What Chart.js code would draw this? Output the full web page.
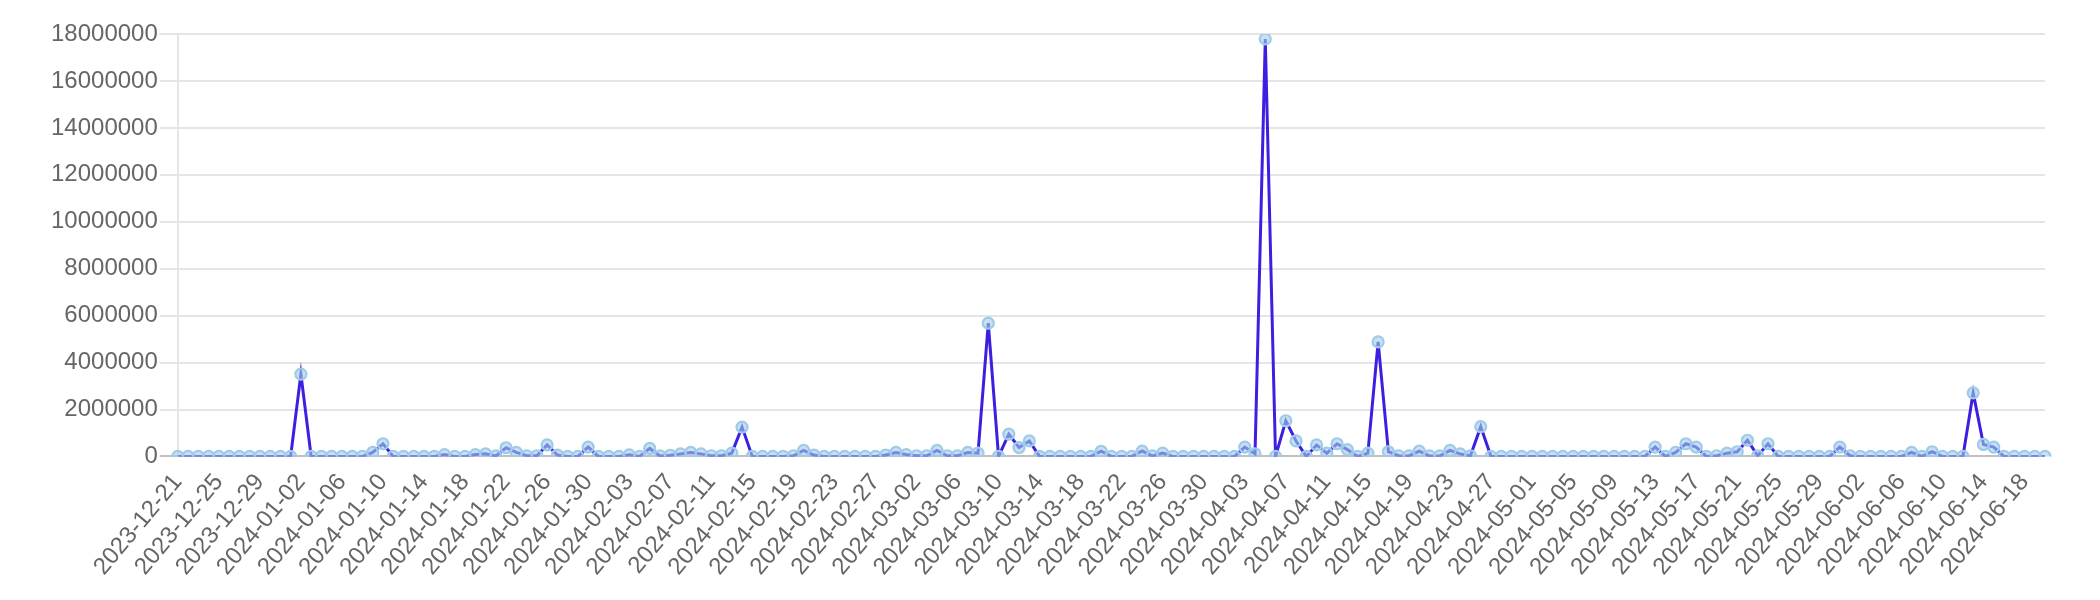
<!DOCTYPE html>
<html>
<head>
<meta charset="utf-8">
<script src="https://cdn.jsdelivr.net/npm/chart.js@4.4.1/dist/chart.umd.min.js"></script>
<style>
  html, body { margin: 0; padding: 0; background: #ffffff; }
  #wrap { width: 2100px; height: 600px; position: relative; }
</style>
</head>
<body>
<div id="wrap"><canvas id="c"></canvas></div>
<script>
const categories = [
  "2023-12-21","2023-12-22","2023-12-23","2023-12-24","2023-12-25","2023-12-26","2023-12-27","2023-12-28","2023-12-29","2023-12-30","2023-12-31",
  "2024-01-01","2024-01-02","2024-01-03","2024-01-04","2024-01-05","2024-01-06","2024-01-07","2024-01-08","2024-01-09","2024-01-10",
  "2024-01-11","2024-01-12","2024-01-13","2024-01-14","2024-01-15","2024-01-16","2024-01-17","2024-01-18","2024-01-19","2024-01-20",
  "2024-01-21","2024-01-22","2024-01-23","2024-01-24","2024-01-25","2024-01-26","2024-01-27","2024-01-28","2024-01-29","2024-01-30","2024-01-31",
  "2024-02-01","2024-02-02","2024-02-03","2024-02-04","2024-02-05","2024-02-06","2024-02-07","2024-02-08","2024-02-09","2024-02-10",
  "2024-02-11","2024-02-12","2024-02-13","2024-02-14","2024-02-15","2024-02-16","2024-02-17","2024-02-18","2024-02-19","2024-02-20",
  "2024-02-21","2024-02-22","2024-02-23","2024-02-24","2024-02-25","2024-02-26","2024-02-27","2024-02-28","2024-02-29",
  "2024-03-01","2024-03-02","2024-03-03","2024-03-04","2024-03-05","2024-03-06","2024-03-07","2024-03-08","2024-03-09","2024-03-10",
  "2024-03-11","2024-03-12","2024-03-13","2024-03-14","2024-03-15","2024-03-16","2024-03-17","2024-03-18","2024-03-19","2024-03-20",
  "2024-03-21","2024-03-22","2024-03-23","2024-03-24","2024-03-25","2024-03-26","2024-03-27","2024-03-28","2024-03-29","2024-03-30","2024-03-31",
  "2024-04-01","2024-04-02","2024-04-03","2024-04-04","2024-04-05","2024-04-06","2024-04-07","2024-04-08","2024-04-09","2024-04-10",
  "2024-04-11","2024-04-12","2024-04-13","2024-04-14","2024-04-15","2024-04-16","2024-04-17","2024-04-18","2024-04-19","2024-04-20",
  "2024-04-21","2024-04-22","2024-04-23","2024-04-24","2024-04-25","2024-04-26","2024-04-27","2024-04-28","2024-04-29","2024-04-30",
  "2024-05-01","2024-05-02","2024-05-03","2024-05-04","2024-05-05","2024-05-06","2024-05-07","2024-05-08","2024-05-09","2024-05-10",
  "2024-05-11","2024-05-12","2024-05-13","2024-05-14","2024-05-15","2024-05-16","2024-05-17","2024-05-18","2024-05-19","2024-05-20",
  "2024-05-21","2024-05-22","2024-05-23","2024-05-24","2024-05-25","2024-05-26","2024-05-27","2024-05-28","2024-05-29","2024-05-30","2024-05-31",
  "2024-06-01","2024-06-02","2024-06-03","2024-06-04","2024-06-05","2024-06-06","2024-06-07","2024-06-08","2024-06-09","2024-06-10",
  "2024-06-11","2024-06-12","2024-06-13","2024-06-14","2024-06-15","2024-06-16","2024-06-17","2024-06-18","2024-06-19","2024-06-20"
];

const seriesValues = [
  // 2023-12-21 .. 2023-12-31
  0,0,0,0,0,0,0,0,0,0,0,
  // 2024-01-01 .. 2024-01-10
  0,3510000,0,0,0,0,0,0,170000,540000,
  // 2024-01-11 .. 2024-01-20
  0,0,0,0,0,80000,0,0,80000,110000,
  // 2024-01-21 .. 2024-01-31
  20000,370000,170000,30000,30000,490000,60000,0,0,400000,0,
  // 2024-02-01 .. 2024-02-10
  0,0,70000,0,340000,20000,50000,110000,170000,110000,
  // 2024-02-11 .. 2024-02-20
  30000,30000,140000,1250000,0,0,0,0,30000,260000,
  // 2024-02-21 .. 2024-02-29
  60000,0,0,0,0,0,0,60000,170000,
  // 2024-03-01 .. 2024-03-10
  80000,30000,30000,260000,30000,30000,170000,140000,5680000,0,
  // 2024-03-11 .. 2024-03-20
  950000,380000,660000,0,0,0,0,0,0,220000,
  // 2024-03-21 .. 2024-03-31
  0,0,0,230000,20000,140000,0,0,0,0,0,
  // 2024-04-01 .. 2024-04-10
  0,0,400000,110000,17790000,0,1520000,660000,0,490000,
  // 2024-04-11 .. 2024-04-20
  140000,540000,290000,0,140000,4880000,200000,30000,20000,230000,
  // 2024-04-21 .. 2024-04-30
  20000,20000,260000,110000,30000,1270000,0,0,0,0,
  // 2024-05-01 .. 2024-05-10
  0,0,0,0,0,0,0,0,0,0,
  // 2024-05-11 .. 2024-05-20
  0,0,400000,0,170000,540000,400000,0,30000,140000,
  // 2024-05-21 .. 2024-05-31
  200000,690000,30000,540000,0,0,0,0,0,0,400000,
  // 2024-06-01 .. 2024-06-10
  30000,0,0,0,0,0,170000,0,200000,0,
  // 2024-06-11 .. 2024-06-20
  0,0,2710000,510000,400000,0,0,0,0,0
];

const yTickMax = 18000000;
const yTickStep = 2000000;
const xLabelEvery = 4;

Chart.defaults.font.family = "'Liberation Sans', Arial, Helvetica, sans-serif";
Chart.defaults.font.size = 24;
Chart.defaults.color = '#666666';

new Chart(document.getElementById('c'), {
  type: 'line',
  data: {
    labels: categories,
    datasets: [{
      data: seriesValues,
      borderColor: '#3c1fe0',
      borderWidth: 3,
      tension: 0,
      fill: false,
      pointRadius: 5.5,
      pointBorderWidth: 2.2,
      pointBackgroundColor: 'rgba(160,205,232,0.6)',
      pointBorderColor: 'rgba(158,203,231,1)'
    }]
  },
  options: {
    responsive: true,
    maintainAspectRatio: false,
    devicePixelRatio: 1,
    animation: false,
    layout: { padding: { left: 49, right: 55, top: 34, bottom: 7 } },
    plugins: { legend: { display: false }, tooltip: { enabled: false } },
    scales: {
      x: {
        grid: { display: false, drawTicks: false },
        border: { display: false },
        ticks: {
          color: '#666666',
          maxRotation: 50,
          minRotation: 50,
          autoSkip: false,
          padding: 12,
          callback: function (value, index) {
            return index % xLabelEvery === 0 ? categories[index] : null;
          }
        }
      },
      y: {
        min: 0,
        max: yTickMax,
        ticks: {
          stepSize: yTickStep,
          color: '#666666',
          padding: 2,
          callback: (v) => String(v)
        },
        grid: {
          color: (ctx) => (ctx.tick && ctx.tick.value === 0) ? 'rgba(0,0,0,0.25)' : 'rgba(0,0,0,0.1)',
          lineWidth: 2,
          tickLength: 18
        },
        border: { color: 'rgba(0,0,0,0.1)', width: 2 }
      }
    }
  }
});
</script>
</body>
</html>
